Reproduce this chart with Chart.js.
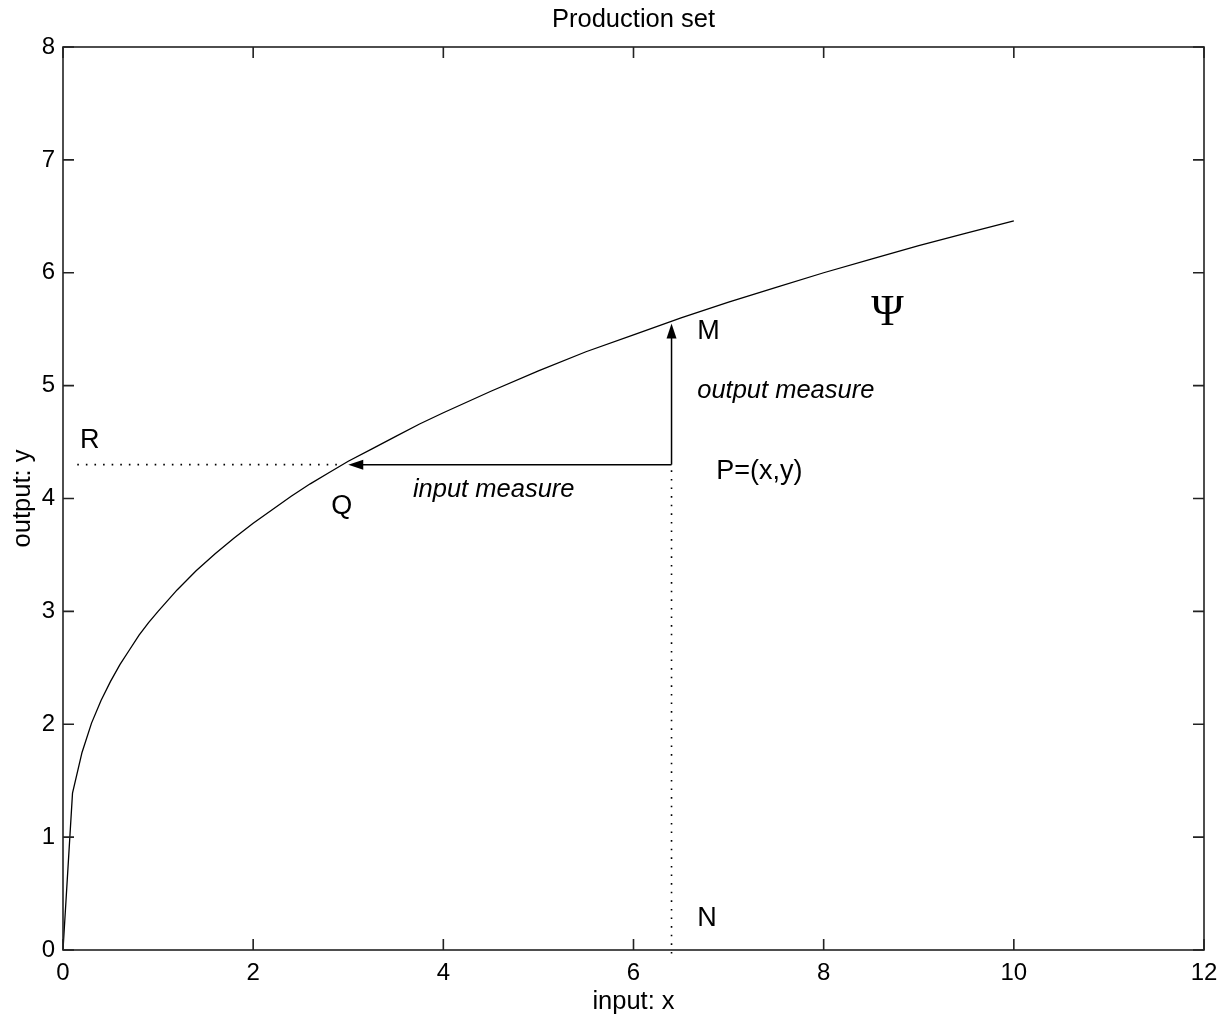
<!DOCTYPE html>
<html>
<head>
<meta charset="utf-8">
<script src="https://cdn.jsdelivr.net/npm/chart.js@4.4.1/dist/chart.umd.min.js"></script>
<style>
  body { margin: 0; background: #fff; }
  #wrap { width: 1221px; height: 1018px; position: relative; }
</style>
</head>
<body>
<div id="wrap"><canvas id="chart"></canvas></div>
<script>
// frontier of the production set
const curveX = [0, 0.1, 0.2, 0.3, 0.4, 0.5, 0.6, 0.7, 0.8, 0.9, 1.0, 1.2, 1.4, 1.6, 1.8, 2.0, 2.2, 2.4, 2.6, 2.8, 3.0,
  3.25, 3.5, 3.75, 4.0, 4.5, 5.0, 5.5, 6.0, 6.5, 7.0, 7.5, 8.0, 8.5, 9.0, 9.5, 10.0];
const curveY = [0, 1.39, 1.75, 2.01, 2.21, 2.38, 2.53, 2.66, 2.79, 2.90, 3.00, 3.19, 3.36, 3.51, 3.65, 3.78, 3.90, 4.02, 4.13, 4.23, 4.33,
  4.44, 4.55, 4.66, 4.76, 4.95, 5.13, 5.30, 5.45, 5.60, 5.74, 5.87, 6.00, 6.12, 6.24, 6.35, 6.46];

// points of the construction
const pointP = [6.4, 4.3];
const pointQ = [3.0, 4.3];
const pointM = [6.4, 5.55];
const dottedR = [[0.15, 4.3], [2.9, 4.3]];
const dottedN = [[6.4, 4.25], [6.4, -0.06]];

const xTicks = [0, 2, 4, 6, 8, 10, 12];
const yTicks = [0, 1, 2, 3, 4, 5, 6, 7, 8];

// labels: text, x, y (data units, left edge / vertical centre)
const labels = [
  ['R', 0.18, 4.51, 'letter'],
  ['Q', 2.82, 3.93, 'letter'],
  ['M', 6.67, 5.48, 'letter'],
  ['N', 6.67, 0.28, 'letter'],
  ['P=(x,y)', 6.87, 4.24, 'letter'],
  ['output measure', 6.67, 4.95, 'italic'],
  ['input measure', 3.68, 4.08, 'italic'],
  ['\u03A8', 8.50, 5.64, 'psi']
];

const sans = '"Liberation Sans", Arial, sans-serif';
const toPts = (xs, ys) => xs.map((x, i) => ({x: x, y: ys[i]}));
const pair = p => p.map(a => ({x: a[0], y: a[1]}));

const fonts = {
  letter: '27px ' + sans,
  italic: 'italic 25.5px ' + sans,
  psi: '44px "Liberation Serif", "DejaVu Serif", serif'
};

const decor = {
  id: 'decor',
  afterDraw(chart) {
    const ctx = chart.ctx;
    const a = chart.chartArea;
    const sx = chart.scales.x, sy = chart.scales.y;
    ctx.save();
    // frame
    ctx.strokeStyle = '#222';
    ctx.lineWidth = 1.6;
    ctx.strokeRect(a.left, a.top, a.right - a.left, a.bottom - a.top);
    // inward ticks on all four sides
    ctx.beginPath();
    xTicks.forEach(v => {
      const px = sx.getPixelForValue(v);
      ctx.moveTo(px, a.bottom); ctx.lineTo(px, a.bottom - 11);
      ctx.moveTo(px, a.top); ctx.lineTo(px, a.top + 11);
    });
    yTicks.forEach(v => {
      const py = sy.getPixelForValue(v);
      ctx.moveTo(a.left, py); ctx.lineTo(a.left + 11, py);
      ctx.moveTo(a.right, py); ctx.lineTo(a.right - 11, py);
    });
    ctx.stroke();

    // arrow heads
    ctx.fillStyle = '#000';
    const head = (tip, dx, dy) => {
      const tx = sx.getPixelForValue(tip[0]), ty = sy.getPixelForValue(tip[1]);
      const L = 15, W = 5;
      ctx.beginPath();
      ctx.moveTo(tx, ty);
      ctx.lineTo(tx - dx * L - dy * W, ty - dy * L + dx * W);
      ctx.lineTo(tx - dx * L + dy * W, ty - dy * L - dx * W);
      ctx.closePath();
      ctx.fill();
    };
    head(pointQ, -1, 0);
    head(pointM, 0, -1);

    // annotations
    ctx.textBaseline = 'middle';
    ctx.textAlign = 'left';
    labels.forEach(l => {
      ctx.font = fonts[l[3]];
      ctx.fillText(l[0], sx.getPixelForValue(l[1]), sy.getPixelForValue(l[2]));
    });

    // title and axis labels
    ctx.textAlign = 'center';
    const cx = (a.left + a.right) / 2;
    ctx.font = '25.5px ' + sans;
    ctx.fillText('Production set', cx, 20);
    ctx.fillText('input: x', cx, 1002);
    ctx.translate(23, (a.top + a.bottom) / 2);
    ctx.rotate(-Math.PI / 2);
    ctx.fillText('output: y', 0, 0);
    ctx.restore();
  }
};

new Chart(document.getElementById('chart'), {
  type: 'scatter',
  data: {
    datasets: [
      {data: toPts(curveX, curveY), showLine: true, borderColor: '#000', borderWidth: 1.3, pointRadius: 0},
      {data: pair([pointP, [pointQ[0] + 0.1, pointQ[1]]]), showLine: true, borderColor: '#000', borderWidth: 1.5, pointRadius: 0},
      {data: pair([pointP, [pointM[0], pointM[1] - 0.1]]), showLine: true, borderColor: '#000', borderWidth: 1.5, pointRadius: 0},
      {data: pair(dottedR), showLine: true, borderColor: '#000', borderWidth: 1.6, borderDash: [1.6, 7], pointRadius: 0},
      {data: pair(dottedN), showLine: true, borderColor: '#000', borderWidth: 1.6, borderDash: [1.6, 7], pointRadius: 0, clip: false}
    ]
  },
  options: {
    responsive: true,
    maintainAspectRatio: false,
    animation: false,
    layout: {padding: {top: 47, right: 17, left: 0, bottom: 0}},
    plugins: {legend: {display: false}, tooltip: {enabled: false}, title: {display: false}},
    scales: {
      x: {
        type: 'linear', min: 0, max: 12,
        afterBuildTicks: s => { s.ticks = xTicks.map(v => ({value: v})); },
        afterFit: s => { s.height = 68; s.paddingLeft = 0; s.paddingRight = 0; },
        grid: {display: false, drawTicks: false},
        border: {display: false},
        ticks: {color: '#000', font: {size: 24, family: sans}, padding: 9, maxRotation: 0}
      },
      y: {
        type: 'linear', min: 0, max: 8,
        afterBuildTicks: s => { s.ticks = yTicks.map(v => ({value: v})); },
        afterFit: s => { s.width = 63; s.paddingTop = 0; s.paddingBottom = 0; },
        grid: {display: false, drawTicks: false},
        border: {display: false},
        ticks: {color: '#000', font: {size: 24, family: sans}, padding: 8}
      }
    }
  },
  plugins: [decor]
});
</script>
</body>
</html>
